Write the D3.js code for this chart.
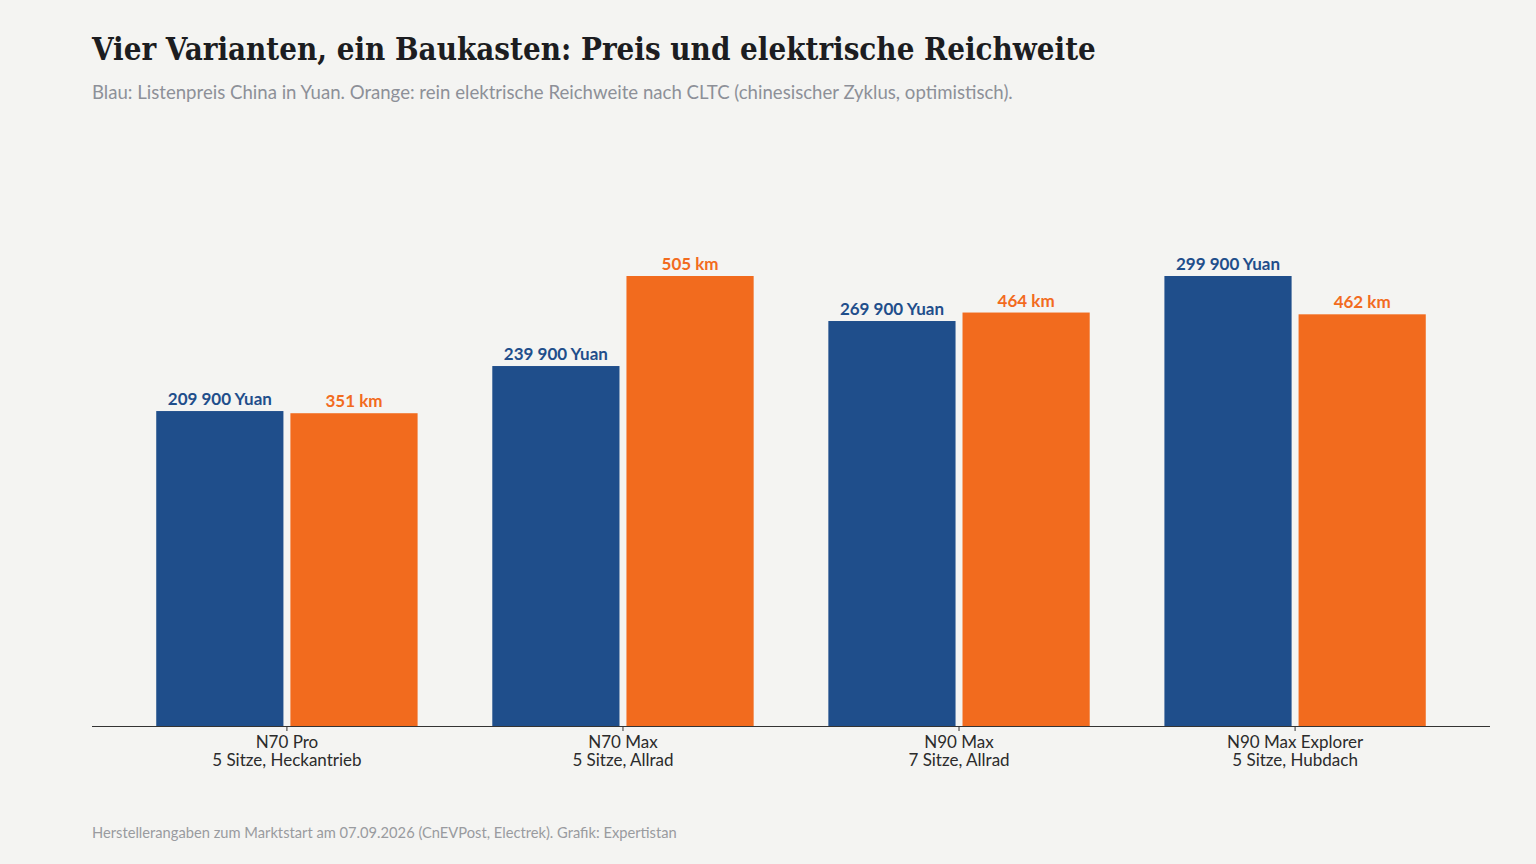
<!DOCTYPE html>
<html>
<head>
<meta charset="utf-8">
<title>Vier Varianten, ein Baukasten</title>
<script src="https://d3js.org/d3.v7.min.js"></script>
<style>
  html, body { margin: 0; padding: 0; background: #f4f4f2; }
  svg { display: block; }
  .title { font-family: "DejaVu Serif", serif; font-weight: bold; font-stretch: condensed; fill: #1c1d21; }
  .sub { font-family: Lato, sans-serif; fill: #8d9098; }
  .cat { font-family: Lato, sans-serif; fill: #2b2b2b; }
  .val { font-family: Lato, sans-serif; font-weight: bold; }
  .foot { font-family: Lato, sans-serif; fill: #999b9f; }
</style>
</head>
<body>
<svg width="1536" height="864"></svg>
<script>
  const models = ['N70 Pro', 'N70 Max', 'N90 Max', 'N90 Max Explorer'];
  const specs = ['5 Sitze, Heckantrieb', '5 Sitze, Allrad', '7 Sitze, Allrad', '5 Sitze, Hubdach'];
  const prices = [209900, 239900, 269900, 299900];
  const ranges = [351, 505, 464, 462];

  const blue = '#1f4e8b';
  const orange = '#f26b1e';

  const svg = d3.select('svg');
  const margin = { left: 92, right: 46, top: 276, bottom: 138 };
  const width = 1536;
  const height = 864;
  const base = height - margin.bottom;

  svg.append('text').attr('class', 'title')
    .attr('x', 92).attr('y', 60).attr('font-size', 31)
    .text('Vier Varianten, ein Baukasten: Preis und elektrische Reichweite');
  svg.append('text').attr('class', 'sub')
    .attr('x', 92).attr('y', 99).attr('font-size', 18.6)
    .text('Blau: Listenpreis China in Yuan. Orange: rein elektrische Reichweite nach CLTC (chinesischer Zyklus, optimistisch).');

  const x0 = d3.scaleBand().domain(models)
    .range([margin.left, width - margin.right])
    .paddingInner(0.16).paddingOuter(0.16);
  const x1 = d3.scaleBand().domain(['preis', 'km'])
    .range([0, x0.bandwidth()])
    .paddingInner(0.052).paddingOuter(0.078);

  // jede Reihe hat ihre eigene Skala, Maximum jeweils gleich hoch
  const yPrice = d3.scaleLinear().domain([0, d3.max(prices)]).range([base, margin.top]);
  const yKm = d3.scaleLinear().domain([0, d3.max(ranges)]).range([base, margin.top]);

  const fmt = n => d3.format(',')(n).replace(/,/g, ' ');

  const rows = models.map((m, i) => ({ m, spec: specs[i], price: prices[i], km: ranges[i] }));

  const g = svg.append('g').selectAll('g').data(rows).join('g')
    .attr('transform', d => `translate(${x0(d.m)},0)`);

  g.append('rect')
    .attr('x', x1('preis')).attr('width', x1.bandwidth())
    .attr('y', d => yPrice(d.price)).attr('height', d => base - yPrice(d.price))
    .attr('fill', blue);
  g.append('rect')
    .attr('x', x1('km')).attr('width', x1.bandwidth())
    .attr('y', d => yKm(d.km)).attr('height', d => base - yKm(d.km))
    .attr('fill', orange);

  g.append('text').attr('class', 'val')
    .attr('x', x1('preis') + x1.bandwidth() / 2)
    .attr('y', d => yPrice(d.price) - 6)
    .attr('text-anchor', 'middle').attr('font-size', 17).attr('fill', blue)
    .text(d => fmt(d.price) + ' Yuan');
  g.append('text').attr('class', 'val')
    .attr('x', x1('km') + x1.bandwidth() / 2)
    .attr('y', d => yKm(d.km) - 6)
    .attr('text-anchor', 'middle').attr('font-size', 17).attr('fill', orange)
    .text(d => d.km + ' km');

  // Achse
  const axis = svg.append('g').attr('transform', `translate(0,${base})`)
    .call(d3.axisBottom(x0).tickSize(5).tickFormat(''));
  axis.select('.domain').attr('d', `M${margin.left},0.5H${width - margin.right}`)
    .attr('stroke', '#333');
  axis.selectAll('.tick line').attr('stroke', '#333');
  axis.selectAll('.tick').each(function (d, i) {
    const t = d3.select(this).append('text').attr('class', 'cat')
      .attr('text-anchor', 'middle').attr('font-size', 17).attr('fill', '#2b2b2b');
    t.append('tspan').attr('x', 0).attr('y', 22).text(models[i]);
    t.append('tspan').attr('x', 0).attr('y', 40).text(specs[i]);
  });

  svg.append('text').attr('class', 'foot')
    .attr('x', 92).attr('y', 838).attr('font-size', 14.7)
    .text('Herstellerangaben zum Marktstart am 07.09.2026 (CnEVPost, Electrek). Grafik: Expertistan');
</script>
</body>
</html>
